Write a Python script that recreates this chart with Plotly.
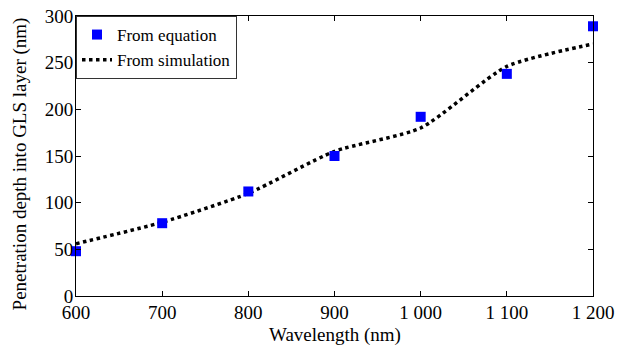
import plotly.graph_objects as go

wavelength = [600, 700, 800, 900, 1000, 1100, 1200]
eq_depth = [48, 78, 112, 150, 192, 238, 289]
sim_depth = [56, 79, 110, 155, 180, 246, 270]
xtick_vals = [600, 700, 800, 900, 1000, 1100, 1200]
xtick_text = ["600", "700", "800", "900", "1 000", "1 100", "1 200"]
ytick_vals = [0, 50, 100, 150, 200, 250, 300]
x_title = "Wavelength (nm)"
y_title = "Penetration depth into GLS layer (nm)"

fig = go.Figure()
fig.add_trace(go.Scatter(x=wavelength, y=sim_depth, mode="lines", name="From simulation",
                         line=dict(color="black", width=3.5, dash="dot", shape="spline", smoothing=0.6)))
fig.add_trace(go.Scatter(x=wavelength, y=eq_depth, mode="markers", name="From equation",
                         marker=dict(symbol="square", color="#0000ff", size=10, line=dict(width=0)),
                         cliponaxis=False))

font = dict(family="Liberation Serif", size=19, color="black")
fig.update_layout(
    width=622, height=341,
    margin=dict(l=68, r=37, t=8, b=53),
    paper_bgcolor="white", plot_bgcolor="white",
    font=font,
    showlegend=True,
    legend=dict(x=0, y=1, xanchor="left", yanchor="top", bordercolor="#333333", borderwidth=1,
                bgcolor="white", traceorder="reversed",
                font=dict(family="Liberation Serif", size=17, color="black"),
                tracegroupgap=0, itemwidth=30),
)
fig.update_xaxes(range=[600, 1200], tickvals=xtick_vals, ticktext=xtick_text,
                 ticks="inside", ticklen=5, tickcolor="black", showline=True, linecolor="black",
                 linewidth=1, mirror="ticks", showgrid=False, zeroline=False, automargin=False,
                 ticklabeloverflow="allow", ticklabelstandoff=-1)
fig.update_yaxes(range=[0, 300], tickvals=ytick_vals,
                 ticks="inside", ticklen=5, tickcolor="black", showline=True, linecolor="black",
                 linewidth=1, mirror="ticks", showgrid=False, zeroline=False, automargin=False,
                 ticklabeloverflow="allow", ticklabelstandoff=-2)
fig.add_annotation(text=x_title, xref="paper", yref="paper", x=0.5, y=0, xanchor="center",
                   yanchor="middle", yshift=-39, showarrow=False, font=font)
fig.add_annotation(text=y_title, xref="paper", yref="paper", x=0, y=0.47, xanchor="center",
                   yanchor="middle", xshift=-56, textangle=-90, showarrow=False, font=font)
fig.write_html("out.html")
